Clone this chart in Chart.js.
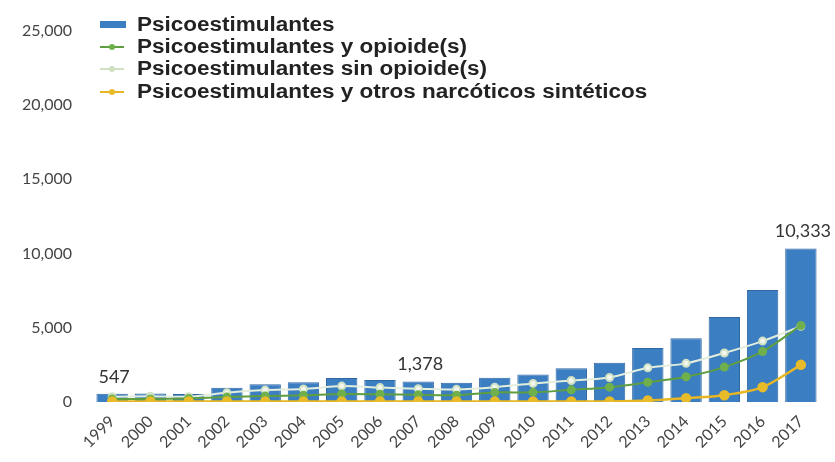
<!DOCTYPE html>
<html>
<head>
<meta charset="utf-8">
<script src="https://cdn.jsdelivr.net/npm/chart.js@4/dist/chart.umd.min.js"></script>
<style>
  html, body { margin: 0; padding: 0; background: #fff; }
  #wrap { width: 835px; height: 462px; position: relative; }
</style>
</head>
<body>
<div id="wrap"><canvas id="chart"></canvas></div>
<script>
// Datos
const years = ['1999','2000','2001','2002','2003','2004','2005','2006','2007','2008',
               '2009','2010','2011','2012','2013','2014','2015','2016','2017'];
const totalPsico = [547, 578, 540, 952, 1193, 1332, 1608, 1484, 1378, 1302,
                    1632, 1854, 2266, 2635, 3627, 4298, 5716, 7542, 10333];
const conOpioides = [200, 200, 240, 330, 400, 450, 540, 520, 480, 460,
                     640, 650, 820, 1000, 1330, 1700, 2350, 3400, 5150];
const sinOpioides = [350, 380, 360, 620, 800, 880, 1070, 970, 900, 850,
                     1000, 1250, 1450, 1650, 2300, 2600, 3300, 4100, 5100];
const otrosSinteticos = [30, 30, 30, 30, 30, 30, 30, 30, 30, 30,
                         30, 30, 30, 40, 100, 260, 460, 1000, 2500];
const yTicks = [0, 5000, 10000, 15000, 20000, 25000];
const labeledYears = ['1999', '2007', '2017'];

const FONT = "'Lato', 'Open Sans', sans-serif";

// etiquetas de valor sobre algunas barras
const barLabels = {
    id: 'barLabels',
    afterDatasetsDraw(chart) {
        const ctx = chart.ctx;
        const meta = chart.getDatasetMeta(0);
        ctx.save();
        ctx.font = '18px ' + FONT;
        ctx.fillStyle = '#333';
        ctx.textAlign = 'center';
        ctx.textBaseline = 'bottom';
        labeledYears.forEach(y => {
            const i = years.indexOf(y);
            const bar = meta.data[i];
            ctx.fillText(totalPsico[i].toLocaleString('en-US'), bar.x + 2, bar.y - 8);
        });
        ctx.restore();
    }
};

// leyenda dibujada a mano, una entrada por línea
const stackedLegend = {
    id: 'stackedLegend',
    afterDraw(chart) {
        const ctx = chart.ctx;
        const x0 = 100, rowY = [25, 47, 69, 92];
        ctx.save();
        ctx.textBaseline = 'middle';
        chart.data.datasets.forEach((ds, i) => {
            const y = rowY[i];
            if (ds.type === 'bar') {
                ctx.fillStyle = ds.backgroundColor;
                ctx.fillRect(x0, y - 4, 26, 7);
            } else {
                ctx.strokeStyle = ds.legendColor || ds.borderColor;
                ctx.lineWidth = 2;
                ctx.beginPath();
                ctx.moveTo(x0, y);
                ctx.lineTo(x0 + 24, y);
                ctx.stroke();
                ctx.fillStyle = ds.legendColor || ds.pointBackgroundColor;
                ctx.beginPath();
                ctx.arc(x0 + 12, y, 3, 0, Math.PI * 2);
                ctx.fill();
            }
            // texto un poco ensanchado, como en el original
            ctx.save();
            ctx.translate(x0 + 37, y);
            ctx.scale(1.125, 1);
            ctx.font = 'bold 20px "Liberation Sans", Arial, sans-serif';
            ctx.fillStyle = '#222';
            ctx.fillText(ds.label, 0, 0);
            ctx.restore();
        });
        ctx.restore();
    }
};

new Chart(document.getElementById('chart'), {
    data: {
        labels: years,
        datasets: [
            {
                type: 'bar',
                label: 'Psicoestimulantes',
                data: totalPsico,
                backgroundColor: '#3b7ec2',
                borderColor: '#2e67a3',
                borderWidth: 1,
                categoryPercentage: 0.82,
                barPercentage: 1.0,
                order: 10
            },
            {
                type: 'line',
                label: 'Psicoestimulantes y opioide(s)',
                data: conOpioides,
                borderColor: '#5e9e3e',
                pointBackgroundColor: '#6fb04c',
                pointBorderColor: '#6fb04c',
                borderWidth: 2,
                pointRadius: 3.5,
                tension: 0.3,
                order: 2
            },
            {
                type: 'line',
                label: 'Psicoestimulantes sin opioide(s)',
                data: sinOpioides,
                borderColor: '#e4eedd',
                pointBackgroundColor: '#f2f7ee',
                pointBorderColor: '#cfe0c4',
                legendColor: '#cfe0c4',
                borderWidth: 2,
                pointRadius: 3.5,
                tension: 0.3,
                order: 3
            },
            {
                type: 'line',
                label: 'Psicoestimulantes y otros narcóticos sintéticos',
                data: otrosSinteticos,
                borderColor: '#e6b722',
                pointBackgroundColor: '#e8bb2a',
                pointBorderColor: '#e8bb2a',
                borderWidth: 2.5,
                pointRadius: 4,
                tension: 0.3,
                order: 1
            }
        ]
    },
    options: {
        responsive: true,
        maintainAspectRatio: false,
        animation: false,
        layout: { padding: { top: 13, right: 15, left: 0, bottom: 0 } },
        plugins: {
            legend: { display: false },
            tooltip: { enabled: false }
        },
        scales: {
            x: {
                grid: { display: false },
                border: { display: false },
                afterFit: axis => { axis.height = 60; },
                ticks: {
                    minRotation: 45,
                    maxRotation: 45,
                    padding: 2,
                    color: '#444',
                    font: { family: FONT, size: 16 }
                }
            },
            y: {
                min: 0,
                max: 25000,
                afterBuildTicks: axis => { axis.ticks = yTicks.map(v => ({ value: v })); },
                afterFit: axis => { axis.width = 93; },
                grid: { display: false, drawTicks: false },
                border: { display: false },
                ticks: {
                    padding: 21,
                    color: '#444',
                    font: { family: FONT, size: 16 },
                    callback: v => v.toLocaleString('en-US')
                }
            }
        }
    },
    plugins: [barLabels, stackedLegend]
});
</script>
</body>
</html>
